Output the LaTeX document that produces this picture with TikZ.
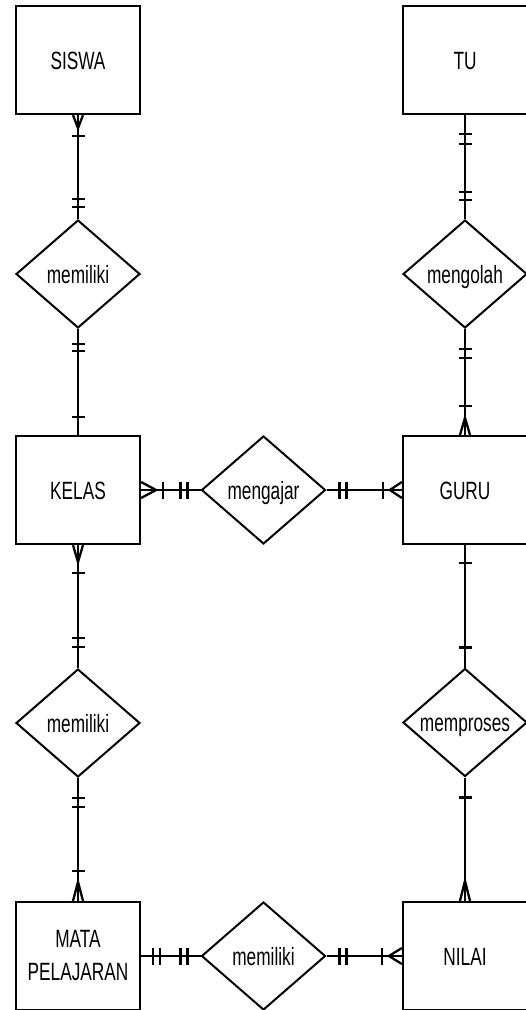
\documentclass[tikz,border=0pt]{standalone}
\usepackage{fontspec}
\newfontfamily\erfont{Liberation Sans}[FakeStretch=0.69]
\usetikzlibrary{shapes.geometric,calc}
\tikzset{
  erfont/.style={font=\erfont\fontsize{25}{33}\selectfont},
  entity/.style={draw, line width=2.2pt, minimum width=124pt, minimum height=108pt, inner sep=0pt, erfont, align=center},
  relation/.style={draw, diamond, aspect=1.15, line width=2pt, minimum width=124pt, minimum height=108pt, inner sep=0pt, erfont},
  lbl/.style={text height=18pt, text depth=0pt},
  conn/.style={line width=1.9pt},
  mk/.style={line width=2.3pt},
}
\newcommand\tickV[2]{\draw[mk] ($(#1)+(-6.5,#2)$) -- ($(#1)+(6.5,#2)$);}
\newcommand\tickH[2]{\draw[mk] ($(#1)+(#2,-8.5)$) -- ($(#1)+(#2,8.5)$);}
\newcommand\crowV[2]{\draw[mk] ($(#1)+(-5,0)$) -- ($(#1)+(0,#2)$) -- ($(#1)+(5,0)$);}
\newcommand\crowH[2]{\draw[mk] ($(#1)+(0,-8)$) -- ($(#1)+(#2,0)$) -- ($(#1)+(0,8)$);}
\begin{document}
\begin{tikzpicture}[x=1pt,y=-1pt]
\useasboundingbox (0,0) rectangle (526,1010);
\node[entity,lbl] (siswa) at (78,60) {SISWA};
\node[entity,lbl] (tu) at (465,60) {TU};
\node[relation,lbl] (r1) at (78,274) {memiliki};
\node[relation,lbl] (r2) at (465,274) {mengolah};
\node[entity,lbl] (kelas) at (78,490) {KELAS};
\node[relation,lbl] (r3) at (263.5,490) {mengajar};
\node[entity,lbl] (guru) at (465,490) {GURU};
\node[relation,lbl] (r4) at (78,723) {memiliki};
\node[relation,lbl] (r5) at (465,722.5) {memproses};
\node[entity] (mata) at (78,956) {MATA\\PELAJARAN};
\node[relation,lbl] (r6) at (263.5,956) {memiliki};
\node[entity,lbl] (nilai) at (465,956) {NILAI};

\draw[conn] (siswa) -- (r1);
\draw[conn] (r1) -- (kelas);
\draw[conn] (tu) -- (r2);
\draw[conn] (r2) -- (guru);
\draw[conn] (kelas) -- (r3);
\draw[conn] (r3) -- (guru);
\draw[conn] (kelas) -- (r4);
\draw[conn] (r4) -- (mata);
\draw[conn] (guru) -- (r5);
\draw[conn] (r5) -- (nilai);
\draw[conn] (mata) -- (r6);
\draw[conn] (r6) -- (nilai);

% 1
\crowV{siswa.south}{13} \tickV{siswa.south}{21} \tickV{r1.north}{-20} \tickV{r1.north}{-12}
% 2
\tickV{r1.south}{15} \tickV{r1.south}{22} \tickV{kelas.north}{-18}
% 3
\tickV{tu.south}{19} \tickV{tu.south}{29} \tickV{r2.north}{-27} \tickV{r2.north}{-19}
% 4
\tickV{r2.south}{20} \tickV{r2.south}{29} \tickV{guru.north}{-29} \crowV{guru.north}{-17}
% 5
\crowH{kelas.east}{15} \tickH{kelas.east}{22} \tickH{r3.west}{-20} \tickH{r3.west}{-13}
% 6
\tickH{r3.east}{13} \tickH{r3.east}{20} \tickH{guru.west}{-19} \crowH{guru.west}{-12}
% 7
\crowV{kelas.south}{17} \tickV{kelas.south}{28} \tickV{r4.north}{-30} \tickV{r4.north}{-21}
% 8
\tickV{r4.south}{20} \tickV{r4.south}{29} \tickV{mata.north}{-30} \crowV{mata.north}{-19}
% 9
\tickV{guru.south}{18} \tickV{r5.north}{-20}
% 10
\tickV{r5.south}{20} \crowV{nilai.north}{-20}
% 11
\tickH{mata.east}{12} \tickH{mata.east}{19} \tickH{r6.west}{-20} \tickH{r6.west}{-13}
% 12
\tickH{r6.east}{13} \tickH{r6.east}{20} \tickH{nilai.west}{-20} \crowH{nilai.west}{-13}
\end{tikzpicture}
\end{document}
